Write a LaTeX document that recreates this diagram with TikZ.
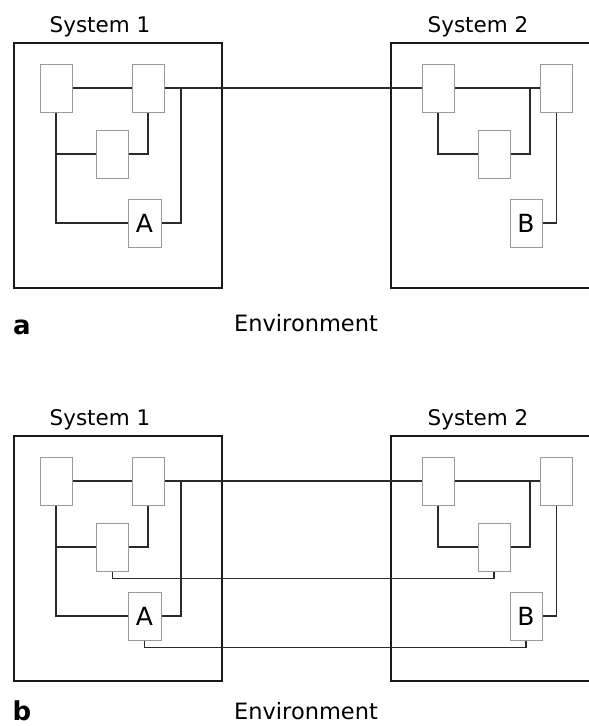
\documentclass[tikz,border=0pt]{standalone}
\usepackage{fontspec}
\setmainfont{DejaVu Sans}
\begin{document}
\begin{tikzpicture}[x=1pt,y=-1pt,
  sysbox/.style={draw=black!90,line width=2.2pt,minimum width=208pt,minimum height=245pt,inner sep=0pt},
  comp/.style={draw=innergray,line width=1pt,fill=white,minimum width=32pt,minimum height=48pt,inner sep=0pt,font=\fontsize{25}{25}\selectfont},
  wire/.style={draw=wiregray,line width=1.1pt},
  syslabel/.style={anchor=base,inner sep=0pt,font=\fontsize{21.5}{21}\selectfont},
  envlabel/.style={anchor=base,inner sep=0pt,font=\fontsize{22.5}{22}\selectfont},
  panel/.style={anchor=base,inner sep=0pt,font=\fontsize{26}{26}\selectfont\bfseries}]
\definecolor{innergray}{HTML}{9E9898}
\definecolor{wiregray}{HTML}{2A2A2A}
\useasboundingbox (0,0) rectangle (589,726);
\clip (0,0) rectangle (589,726);
\foreach \p/\dy in {a/0,b/393}{
  \begin{scope}[yshift=-\dy pt]
  % outer systems
  \node[sysbox] (\p S1) at (118,165.5) {};
  \node[sysbox] (\p S2) at (495,165.5) {};
  \node[syslabel] (\p L1) at (100,32) {System 1};
  \node[syslabel] (\p L2) at (478,32) {System 2};
  % system 1 components
  \node[comp] (\p a1) at (56,88) {};
  \node[comp] (\p a2) at (148,88) {};
  \node[comp] (\p a3) at (112.5,154) {};
  \node[comp,minimum width=33pt] (\p aA) at (144.5,223) {A};
  % system 2 components
  \node[comp] (\p b1) at (438,88) {};
  \node[comp] (\p b2) at (556.5,88) {};
  \node[comp] (\p b3) at (494,154) {};
  \node[comp] (\p bB) at (526,223) {B};
  \coordinate (\p j1) at (181,88);
  \coordinate (\p j2) at (530,88);
  % wires in system 1
  \draw[wire] (\p a1.east) -- (\p a2.west);
  \draw[wire] (\p a1.south) |- (\p aA.west);
  \draw[wire] (\p a1.south |- \p a3.west) -- (\p a3.west);
  \draw[wire] (\p a3.east) -| (\p a2.south);
  \draw[wire] (\p j1) |- (\p aA.east);
  % link between systems
  \draw[wire] (\p a2.east) -- (\p b1.west);
  % wires in system 2
  \draw[wire] (\p b1.east) -- (\p b2.west);
  \draw[wire] (\p b1.south) |- (\p b3.west);
  \draw[wire] (\p j2) |- (\p b3.east);
  \draw[wire] (\p b2.south) |- (\p bB.east);
  \end{scope}
}
\node[panel] (la) at (22,334) {a};
\node[panel] (lb) at (22,720) {b};
\node[envlabel] (ea) at (306,331) {Environment};
\node[envlabel] (eb) at (306,719) {Environment};
% extra links in panel b
\draw[wire] (ba3.south) -- ++(0,7) -| (bb3.south);
\draw[wire] (baA.south) -- ++(0,7) -| (bbB.south);
\end{tikzpicture}
\end{document}
